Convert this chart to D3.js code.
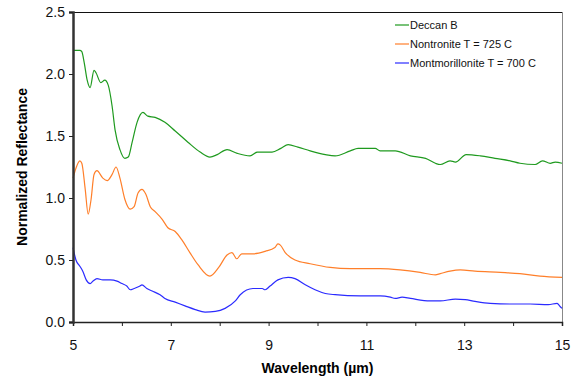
<!DOCTYPE html>
<html>
  <head>
    <meta charset="utf-8" />
    <script src="https://d3js.org/d3.v7.min.js"></script>
    <style>
      body { margin: 0; background: #fff; }
      text { font-family: "Liberation Sans", Arial, sans-serif; }
    </style>
  </head>
  <body>
    <svg width="574" height="379"></svg>
    <script>
      // values (wavelength in µm, normalized reflectance)
      const deccanX = [5.0, 5.14, 5.18, 5.23, 5.29, 5.35, 5.43, 5.47, 5.57, 5.65, 5.72, 5.8, 5.86, 5.96, 6.06, 6.13, 6.21, 6.31, 6.43, 6.53, 6.68, 6.88, 7.09, 7.35, 7.6, 7.8, 7.95, 8.15, 8.36, 8.62, 8.77, 9.07, 9.25, 9.4, 9.6, 9.85, 10.16, 10.36, 10.67, 10.83, 11.0, 11.18, 11.28, 11.59, 11.9, 12.21, 12.41, 12.51, 12.71, 12.82, 13.04, 13.33, 13.63, 13.94, 14.14, 14.45, 14.6, 14.76, 14.86, 15.0];
      const deccanY = [2.19, 2.19, 2.18, 2.09, 1.95, 1.89, 2.03, 2.01, 1.93, 1.95, 1.91, 1.74, 1.55, 1.39, 1.32, 1.33, 1.45, 1.61, 1.69, 1.66, 1.65, 1.61, 1.54, 1.45, 1.37, 1.33, 1.35, 1.39, 1.36, 1.34, 1.37, 1.37, 1.40, 1.43, 1.41, 1.38, 1.35, 1.34, 1.38, 1.40, 1.40, 1.40, 1.38, 1.38, 1.34, 1.32, 1.28, 1.27, 1.30, 1.29, 1.35, 1.34, 1.32, 1.30, 1.28, 1.27, 1.30, 1.28, 1.29, 1.28];

      const nontroniteX = [5.0, 5.06, 5.14, 5.18, 5.25, 5.31, 5.37, 5.43, 5.49, 5.61, 5.7, 5.8, 5.88, 5.96, 6.06, 6.17, 6.25, 6.33, 6.41, 6.49, 6.58, 6.68, 6.82, 6.94, 7.09, 7.23, 7.39, 7.56, 7.8, 7.98, 8.15, 8.25, 8.35, 8.45, 8.68, 8.93, 9.13, 9.19, 9.24, 9.34, 9.54, 9.85, 10.26, 10.67, 11.28, 11.69, 12.1, 12.41, 12.51, 12.71, 12.92, 13.22, 13.74, 14.14, 14.55, 15.0];
      const nontroniteY = [1.16, 1.24, 1.30, 1.28, 1.07, 0.87, 0.99, 1.19, 1.22, 1.16, 1.14, 1.19, 1.25, 1.16, 0.99, 0.91, 0.93, 1.04, 1.07, 1.03, 0.93, 0.89, 0.83, 0.76, 0.73, 0.66, 0.56, 0.46, 0.37, 0.44, 0.54, 0.56, 0.51, 0.55, 0.55, 0.57, 0.60, 0.63, 0.62, 0.56, 0.50, 0.47, 0.44, 0.43, 0.43, 0.42, 0.40, 0.38, 0.39, 0.41, 0.42, 0.41, 0.40, 0.39, 0.37, 0.36];

      const montX = [5.0, 5.06, 5.14, 5.2, 5.27, 5.35, 5.41, 5.49, 5.61, 5.76, 5.9, 6.0, 6.1, 6.17, 6.25, 6.37, 6.41, 6.51, 6.62, 6.78, 6.88, 7.09, 7.29, 7.5, 7.7, 7.91, 8.11, 8.32, 8.42, 8.68, 8.87, 8.93, 9.03, 9.19, 9.4, 9.54, 9.75, 9.95, 10.16, 10.36, 10.87, 11.28, 11.49, 11.59, 11.73, 11.9, 12.3, 12.51, 12.82, 13.02, 13.22, 13.53, 13.94, 14.35, 14.72, 14.9, 14.96, 15.0];
      const montY = [0.60, 0.50, 0.45, 0.41, 0.34, 0.31, 0.33, 0.35, 0.34, 0.34, 0.33, 0.31, 0.29, 0.26, 0.27, 0.29, 0.30, 0.27, 0.25, 0.22, 0.19, 0.16, 0.13, 0.10, 0.08, 0.085, 0.11, 0.17, 0.22, 0.27, 0.27, 0.26, 0.29, 0.34, 0.36, 0.35, 0.30, 0.26, 0.23, 0.22, 0.21, 0.21, 0.20, 0.19, 0.20, 0.19, 0.17, 0.17, 0.185, 0.18, 0.166, 0.15, 0.145, 0.145, 0.14, 0.15, 0.125, 0.11];

      const seriesNames = ["Deccan B", "Nontronite T = 725 C", "Montmorillonite T = 700 C"];
      const seriesColors = ["#1f9a1f", "#ff7f2a", "#2b2bff"];
      const xTickLabels = [5, 7, 9, 11, 13, 15];
      const yTickLabels = [0, 0.5, 1, 1.5, 2, 2.5];

      const svg = d3.select("svg");
      const plotLeft = 73, plotRight = 562, plotTop = 12, plotBottom = 322;

      const x = d3.scaleLinear().domain([5, 15]).range([plotLeft, plotRight]);
      const y = d3.scaleLinear().domain([0, 2.5]).range([plotBottom, plotTop]);

      // plot frame: black top edge, grey right edge
      svg.append("line")
        .attr("x1", plotLeft).attr("x2", plotRight + 1)
        .attr("y1", plotTop + 0.5).attr("y2", plotTop + 0.5)
        .attr("stroke", "#111");
      svg.append("line")
        .attr("x1", plotRight + 0.5).attr("x2", plotRight + 0.5)
        .attr("y1", plotTop).attr("y2", plotBottom)
        .attr("stroke", "#888");

      const series = [
        { xs: deccanX, ys: deccanY },
        { xs: nontroniteX, ys: nontroniteY },
        { xs: montX, ys: montY },
      ];

      const line = d3.line()
        .x((d) => x(d[0]))
        .y((d) => y(d[1]))
        .curve(d3.curveMonotoneX);

      series.forEach((s, i) => {
        svg.append("path")
          .datum(d3.zip(s.xs, s.ys))
          .attr("d", line)
          .attr("fill", "none")
          .attr("stroke", seriesColors[i])
          .attr("stroke-width", 1.2);
      });

      // x axis
      const xAxis = svg.append("g")
        .attr("transform", `translate(0,${plotBottom})`)
        .call(d3.axisBottom(x).ticks(10).tickSize(4)
          .tickFormat((d) => (xTickLabels.includes(d) ? d : "")));
      xAxis.select(".domain").attr("stroke", "#222").attr("stroke-width", 1.5);
      xAxis.selectAll(".tick line").attr("stroke", "#222");
      xAxis.selectAll("text").attr("font-size", 14).attr("fill", "#111").attr("dy", "1.5em");

      // y axis
      const yAxis = svg.append("g")
        .attr("transform", `translate(${plotLeft},0)`)
        .call(d3.axisLeft(y).tickValues(yTickLabels).tickSize(4).tickFormat(d3.format(".1f")));
      yAxis.select(".domain").attr("stroke", "#333").attr("stroke-width", 2.5);
      yAxis.selectAll(".tick line").attr("stroke", "#222");
      yAxis.selectAll("text").attr("font-size", 14).attr("fill", "#111").attr("x", -8);

      // axis titles
      svg.append("text")
        .attr("x", (plotLeft + plotRight) / 2)
        .attr("y", 373)
        .attr("text-anchor", "middle")
        .attr("font-size", 14)
        .attr("font-weight", "bold")
        .text("Wavelength (µm)");

      svg.append("text")
        .attr("transform", `translate(27,${(plotTop + plotBottom) / 2}) rotate(-90)`)
        .attr("text-anchor", "middle")
        .attr("font-size", 14)
        .attr("font-weight", "bold")
        .text("Normalized Reflectance");

      // legend
      const legend = svg.append("g");
      seriesNames.forEach((name, i) => {
        const ly = 25 + i * 19;
        legend.append("line")
          .attr("x1", 395).attr("x2", 409)
          .attr("y1", ly).attr("y2", ly)
          .attr("stroke", seriesColors[i])
          .attr("stroke-width", 1.2);
        legend.append("text")
          .attr("x", 410)
          .attr("y", ly + 4)
          .attr("font-size", 11)
          .attr("fill", "#111")
          .text(name);
      });
    </script>
  </body>
</html>
